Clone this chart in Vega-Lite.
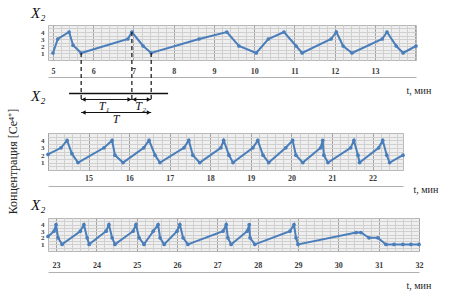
{
  "$schema": "https://vega.github.io/schema/vega-lite/v6.json",
  "padding": 5,
  "background": "white",
  "config": {
    "view": {"fill": "#efefef", "stroke": "#b8b8b8"},
    "axis": {"labelFont": "Liberation Serif", "labelColor": "#3a3a3a", "labelFontWeight": "bold", "titleFont": "Liberation Serif", "titleFontWeight": "normal", "titleColor": "#222"},
    "title": {"font": "Liberation Serif", "fontStyle": "italic", "fontSize": 15, "fontWeight": "normal", "color": "#111", "anchor": "start", "frame": "group", "dx": -17, "offset": 4, "baseline": "bottom"}
  },
  "datasets": {
    "p1": [
      {"t": 5.0, "c": 1}, {"t": 5.12, "c": 3}, {"t": 5.4, "c": 4}, {"t": 5.5, "c": 2.1}, {"t": 5.7, "c": 1},
      {"t": 6.86, "c": 3}, {"t": 6.96, "c": 4}, {"t": 7.24, "c": 2}, {"t": 7.44, "c": 1},
      {"t": 8.63, "c": 3}, {"t": 9.32, "c": 4}, {"t": 9.62, "c": 2}, {"t": 10.05, "c": 1},
      {"t": 10.35, "c": 3}, {"t": 10.74, "c": 4}, {"t": 11.04, "c": 2}, {"t": 11.19, "c": 1},
      {"t": 11.91, "c": 3}, {"t": 12.04, "c": 4}, {"t": 12.21, "c": 2}, {"t": 12.43, "c": 1},
      {"t": 13.18, "c": 3}, {"t": 13.3, "c": 4}, {"t": 13.53, "c": 2}, {"t": 13.7, "c": 1}, {"t": 14.02, "c": 2}
    ],
    "p2": [
      {"t": 14.0, "c": 2.1}, {"t": 14.32, "c": 3}, {"t": 14.47, "c": 4}, {"t": 14.59, "c": 2.2}, {"t": 14.74, "c": 1},
      {"t": 15.38, "c": 3}, {"t": 15.58, "c": 4}, {"t": 15.65, "c": 2}, {"t": 15.85, "c": 1},
      {"t": 16.36, "c": 3}, {"t": 16.49, "c": 4}, {"t": 16.64, "c": 2}, {"t": 16.76, "c": 1},
      {"t": 17.35, "c": 3}, {"t": 17.47, "c": 4}, {"t": 17.57, "c": 2}, {"t": 17.74, "c": 1},
      {"t": 18.26, "c": 3}, {"t": 18.33, "c": 4}, {"t": 18.46, "c": 2}, {"t": 18.56, "c": 1},
      {"t": 19.05, "c": 3}, {"t": 19.17, "c": 4}, {"t": 19.3, "c": 2}, {"t": 19.44, "c": 1},
      {"t": 19.86, "c": 3}, {"t": 20.03, "c": 4}, {"t": 20.11, "c": 2}, {"t": 20.28, "c": 1},
      {"t": 20.72, "c": 3}, {"t": 20.77, "c": 4}, {"t": 20.8, "c": 2}, {"t": 20.9, "c": 1},
      {"t": 21.46, "c": 3}, {"t": 21.54, "c": 4}, {"t": 21.64, "c": 2}, {"t": 21.68, "c": 1},
      {"t": 22.15, "c": 3}, {"t": 22.25, "c": 4}, {"t": 22.35, "c": 2}, {"t": 22.42, "c": 1}, {"t": 22.75, "c": 2}
    ],
    "p3": [
      {"t": 22.8, "c": 2.2}, {"t": 22.95, "c": 3}, {"t": 23.0, "c": 4}, {"t": 23.05, "c": 2}, {"t": 23.15, "c": 1},
      {"t": 23.6, "c": 3}, {"t": 23.69, "c": 4}, {"t": 23.77, "c": 2}, {"t": 23.82, "c": 1},
      {"t": 24.24, "c": 3}, {"t": 24.31, "c": 4}, {"t": 24.39, "c": 2}, {"t": 24.46, "c": 1},
      {"t": 24.91, "c": 3}, {"t": 24.98, "c": 4}, {"t": 25.06, "c": 2}, {"t": 25.18, "c": 1},
      {"t": 25.41, "c": 3}, {"t": 25.53, "c": 4}, {"t": 25.58, "c": 2}, {"t": 25.68, "c": 1},
      {"t": 26.0, "c": 3}, {"t": 26.07, "c": 4}, {"t": 26.15, "c": 2}, {"t": 26.27, "c": 1},
      {"t": 27.14, "c": 3}, {"t": 27.22, "c": 4}, {"t": 27.26, "c": 2}, {"t": 27.34, "c": 1},
      {"t": 27.74, "c": 3}, {"t": 27.79, "c": 4}, {"t": 27.81, "c": 2}, {"t": 27.93, "c": 1},
      {"t": 28.8, "c": 3}, {"t": 28.9, "c": 4}, {"t": 28.95, "c": 2}, {"t": 29.0, "c": 1},
      {"t": 30.44, "c": 2.8}, {"t": 30.56, "c": 2.8}, {"t": 30.76, "c": 2}, {"t": 30.98, "c": 2},
      {"t": 31.18, "c": 1}, {"t": 31.38, "c": 1}, {"t": 31.6, "c": 1}, {"t": 31.8, "c": 1}, {"t": 32.0, "c": 1}
    ],
    "drops": [
      {"t": 5.7, "c": 1, "c2": -5.7},
      {"t": 6.96, "c": 4, "c2": -5.7},
      {"t": 7.44, "c": 1, "c2": -5.7}
    ],
    "baseline": [
      {"t": 5.4, "t2": 7.86, "c": -4.8}
    ],
    "spans": [
      {"t": 5.7, "t2": 6.96, "c": -5.64},
      {"t": 6.96, "t2": 7.44, "c": -5.64},
      {"t": 5.7, "t2": 7.44, "c": -7.5}
    ],
    "heads": [
      {"t": 5.76, "c": -5.64, "dir": "left"}, {"t": 6.9, "c": -5.64, "dir": "right"},
      {"t": 7.02, "c": -5.64, "dir": "left"}, {"t": 7.38, "c": -5.64, "dir": "right"},
      {"t": 5.76, "c": -7.5, "dir": "left"}, {"t": 7.38, "c": -7.5, "dir": "right"}
    ],
    "tlabels": [
      {"t": 6.27, "c": -6.5, "name": "T₁"},
      {"t": 7.18, "c": -6.5, "name": "T₂"},
      {"t": 6.57, "c": -8.4, "name": "T"}
    ]
  },
  "bounds": "flush",
  "spacing": 73,
  "vconcat": [
    {
      "width": 368,
      "height": 35,
      "title": {"text": "X₂"},
      "encoding": {
        "x": {"field": "t", "type": "quantitative",
          "scale": {"domain": [4.876, 14.02], "nice": false, "zero": false},
          "axis": {
            "values": [5,5.2,5.4,5.6,5.8,6,6.2,6.4,6.6,6.8,7,7.2,7.4,7.6,7.8,8,8.2,8.4,8.6,8.8,9,9.2,9.4,9.6,9.8,10,10.2,10.4,10.6,10.8,11,11.2,11.4,11.6,11.8,12,12.2,12.4,12.6,12.8,13,13.2,13.4,13.6,13.8,14],
            "labelExpr": "datum.value % 1 === 0 && datum.value < 14 ? format(datum.value, 'd') : ''",
            "grid": true,
            "gridColor": {"condition": {"test": "datum.value % 1 === 0", "value": "#a3a3a3"}, "value": "#d0d0d0"},
            "ticks": false, "tickSize": 0, "domainColor": "#b0b0b0", "offset": 17,
            "labelPadding": -6, "labelBaseline": "middle", "labelFontSize": 8, "labelOverlap": false, "labelFlush": false,
            "title": "t, мин", "titleX": 358, "titleY": 13, "titleAlign": "left", "titleBaseline": "middle", "titleFontSize": 10, "titleAngle": 0
          }
        },
        "y": {"field": "c", "type": "quantitative",
          "scale": {"domain": [0, 5], "nice": false},
          "axis": {"values": [0.5,1,1.5,2,2.5,3,3.5,4,4.5], "labelExpr": "datum.value % 1 === 0 ? format(datum.value, 'd') : ''",
            "grid": true, "gridColor": "#d0d0d0", "ticks": false, "tickSize": 0, "domain": false,
            "labelFontSize": 7, "labelPadding": 4, "labelOverlap": false, "title": null}
        }
      },
      "layer": [
        {
          "data": {"name": "p1"},
          "mark": {"type": "line", "color": "#4a7ebb", "strokeWidth": 2, "point": {"filled": true, "size": 14, "color": "#4a7ebb"}}
        },
        {
          "data": {"name": "drops"},
          "mark": {"type": "rule", "clip": false, "color": "#111", "strokeWidth": 1.2, "strokeDash": [4, 3]},
          "encoding": {"y2": {"field": "c2"}}
        },
        {
          "data": {"name": "baseline"},
          "mark": {"type": "rule", "clip": false, "color": "#111", "strokeWidth": 1.5},
          "encoding": {"x2": {"field": "t2"}}
        },
        {
          "data": {"name": "spans"},
          "mark": {"type": "rule", "clip": false, "color": "#111", "strokeWidth": 1},
          "encoding": {"x2": {"field": "t2"}}
        },
        {
          "data": {"name": "heads"},
          "mark": {"type": "point", "clip": false, "filled": true, "color": "#111", "size": 22, "opacity": 1},
          "encoding": {
            "shape": {"field": "dir", "type": "nominal", "scale": {"domain": ["left", "right"], "range": ["triangle-left", "triangle-right"]}, "legend": null}
          }
        },
        {
          "data": {"name": "tlabels"},
          "mark": {"type": "text", "clip": false, "font": "Liberation Serif", "fontStyle": "italic", "fontSize": 12, "color": "#111", "baseline": "middle"},
          "encoding": {"text": {"field": "name"}}
        }
      ]
    },
    {
      "bounds": "flush",
      "spacing": 48,
      "vconcat": [
        {
          "width": 355,
          "height": 37,
          "title": {"text": "X₂"},
          "data": {"name": "p2"},
          "mark": {"type": "line", "color": "#4a7ebb", "strokeWidth": 2, "point": {"filled": true, "size": 14, "color": "#4a7ebb"}},
          "encoding": {
            "x": {"field": "t", "type": "quantitative",
              "scale": {"domain": [14, 22.75], "nice": false, "zero": false},
              "axis": {
                "values": [14,14.2,14.4,14.6,14.8,15,15.2,15.4,15.6,15.8,16,16.2,16.4,16.6,16.8,17,17.2,17.4,17.6,17.8,18,18.2,18.4,18.6,18.8,19,19.2,19.4,19.6,19.8,20,20.2,20.4,20.6,20.8,21,21.2,21.4,21.6,21.8,22,22.2,22.4,22.6],
                "labelExpr": "datum.value % 1 === 0 && datum.value > 14 ? format(datum.value, 'd') : ''",
                "grid": true,
                "gridColor": {"condition": {"test": "datum.value % 1 === 0", "value": "#a3a3a3"}, "value": "#d0d0d0"},
                "ticks": false, "tickSize": 0, "domainColor": "#b0b0b0", "offset": 16,
                "labelPadding": -8, "labelBaseline": "middle", "labelFontSize": 8, "labelOverlap": false, "labelFlush": false,
                "title": "t, мин", "titleX": 365, "titleY": 3, "titleAlign": "left", "titleBaseline": "middle", "titleFontSize": 10, "titleAngle": 0
              }
            },
            "y": {"field": "c", "type": "quantitative",
              "scale": {"domain": [0, 5], "nice": false},
              "axis": {"values": [0.5,1,1.5,2,2.5,3,3.5,4,4.5], "labelExpr": "datum.value % 1 === 0 ? format(datum.value, 'd') : ''",
                "grid": true, "gridColor": "#d0d0d0", "ticks": false, "tickSize": 0, "domain": false,
                "labelFontSize": 7, "labelPadding": 4, "labelOverlap": false,
                "title": "Концентрация [Ce⁴⁺]", "titleFontSize": 12, "titleFontWeight": "normal", "titleAngle": -90, "titleX": -36, "titleY": 28, "titleAlign": "center", "titleBaseline": "middle"}
            }
          }
        },
        {
          "width": 371,
          "height": 33,
          "title": {"text": "X₂"},
          "data": {"name": "p3"},
          "mark": {"type": "line", "color": "#4a7ebb", "strokeWidth": 2, "point": {"filled": true, "size": 14, "color": "#4a7ebb"}},
          "encoding": {
            "x": {"field": "t", "type": "quantitative",
              "scale": {"domain": [22.8, 32], "nice": false, "zero": false},
              "axis": {
                "values": [23,23.2,23.4,23.6,23.8,24,24.2,24.4,24.6,24.8,25,25.2,25.4,25.6,25.8,26,26.2,26.4,26.6,26.8,27,27.2,27.4,27.6,27.8,28,28.2,28.4,28.6,28.8,29,29.2,29.4,29.6,29.8,30,30.2,30.4,30.6,30.8,31,31.2,31.4,31.6,31.8,32],
                "labelExpr": "datum.value % 1 === 0 ? format(datum.value, 'd') : ''",
                "grid": true,
                "gridColor": {"condition": {"test": "datum.value % 1 === 0", "value": "#a3a3a3"}, "value": "#d0d0d0"},
                "ticks": false, "tickSize": 0, "domainColor": "#b0b0b0", "offset": 21,
                "labelPadding": -7, "labelBaseline": "middle", "labelFontSize": 8, "labelOverlap": false, "labelFlush": false,
                "title": "t, мин", "titleX": 358, "titleY": 13, "titleAlign": "left", "titleBaseline": "middle", "titleFontSize": 10, "titleAngle": 0
              }
            },
            "y": {"field": "c", "type": "quantitative",
              "scale": {"domain": [0, 5], "nice": false},
              "axis": {"values": [0.5,1,1.5,2,2.5,3,3.5,4,4.5], "labelExpr": "datum.value % 1 === 0 ? format(datum.value, 'd') : ''",
                "grid": true, "gridColor": "#d0d0d0", "ticks": false, "tickSize": 0, "domain": false,
                "labelFontSize": 7, "labelPadding": 4, "labelOverlap": false, "title": null}
            }
          }
        }
      ]
    }
  ]
}
